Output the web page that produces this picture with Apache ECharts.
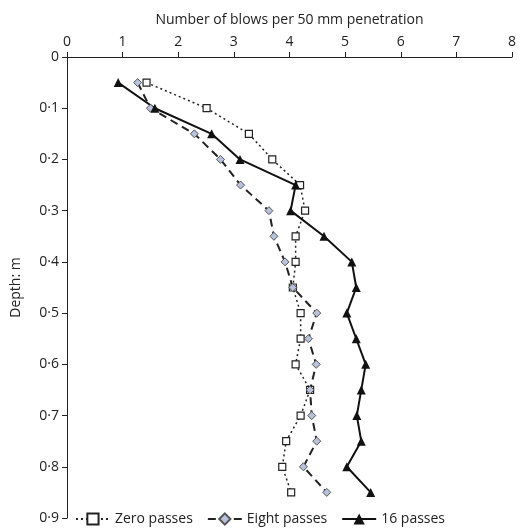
<!DOCTYPE html>
<html><head><meta charset="utf-8">
<script src="https://cdn.jsdelivr.net/npm/echarts@6/dist/echarts.min.js"></script>
<style>html,body{margin:0;padding:0;background:#fff}#c{width:520px;height:531px}</style>
</head><body><div id="c"></div>
<script>
const depths = [0.05,0.1,0.15,0.2,0.25,0.3,0.35,0.4,0.45,0.5,0.55,0.6,0.65,0.7,0.75,0.8,0.85];
const zeroPasses = [1.43,2.51,3.27,3.69,4.19,4.28,4.11,4.11,4.06,4.20,4.20,4.11,4.37,4.20,3.94,3.87,4.03];
const eightPasses = [1.27,1.50,2.29,2.76,3.12,3.63,3.72,3.92,4.06,4.49,4.34,4.48,4.37,4.40,4.49,4.25,4.67];
const sixteenPasses = [0.92,1.58,2.60,3.11,4.11,4.02,4.62,5.12,5.20,5.03,5.20,5.37,5.29,5.21,5.29,5.03,5.46];
const pairs = v => v.map((x,i)=>[x,depths[i]]);
const font = 'Open Sans';
const chart = echarts.init(document.getElementById('c'));
chart.setOption({
  animation:false,
  textStyle:{fontFamily:font,color:'#222'},
  grid:{left:67,right:8,top:57,bottom:13},
  legend:{bottom:0,left:'center',itemGap:14,itemWidth:34,textStyle:{fontSize:14,color:'#222',fontFamily:font},
    data:['Zero passes','Eight passes','16 passes']},
  xAxis:{type:'value',position:'top',min:0,max:8,interval:1,
    name:'Number of blows per 50 mm penetration',nameLocation:'middle',nameGap:30,
    nameTextStyle:{fontSize:14,color:'#222'},
    axisLine:{lineStyle:{color:'#222'}},axisTick:{show:true,inside:false,lineStyle:{color:'#222'}},
    axisLabel:{fontSize:14,color:'#222'},splitLine:{show:false}},
  yAxis:{type:'value',inverse:true,min:0,max:0.9,interval:0.1,
    name:'Depth: m',nameLocation:'middle',nameGap:44,nameTextStyle:{fontSize:14,color:'#222'},
    axisLine:{show:true,lineStyle:{color:'#222'}},axisTick:{show:true,lineStyle:{color:'#222'}},
    axisLabel:{fontSize:14,color:'#222',formatter:v=>v===0?'0':v.toFixed(1).replace('.','·')},
    splitLine:{show:false}},
  series:[
    {name:'Zero passes',type:'line',data:pairs(zeroPasses),symbol:'rect',symbolSize:7,
     lineStyle:{color:'#222',width:1.5,type:[2,3]},itemStyle:{color:'#fff',borderColor:'#222',borderWidth:1.2}},
    {name:'Eight passes',type:'line',data:pairs(eightPasses),symbol:'diamond',symbolSize:8,
     lineStyle:{color:'#222',width:2,type:[8,5]},itemStyle:{color:'#b8c2dc',borderColor:'#555',borderWidth:1}},
    {name:'16 passes',type:'line',data:pairs(sixteenPasses),symbol:'triangle',symbolSize:9,
     lineStyle:{color:'#111',width:2},itemStyle:{color:'#111'}}
  ]
});
</script></body></html>
